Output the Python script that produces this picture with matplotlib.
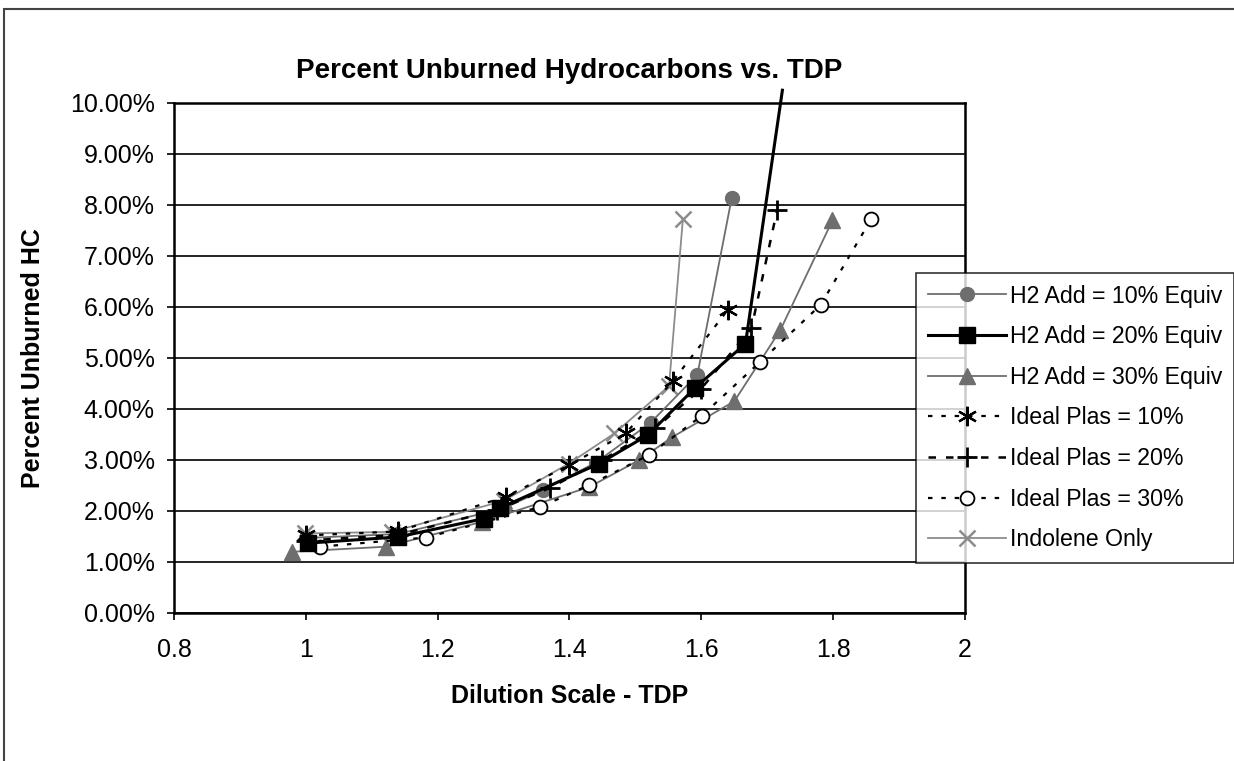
import matplotlib.pyplot as plt
from matplotlib.patches import Rectangle
from matplotlib.ticker import FuncFormatter, MultipleLocator

plt.rcParams['font.family'] = ['Liberation Sans', 'DejaVu Sans']

# Dilution scale (TDP) and percent unburned HC for each run
h2_10_x = [1.00, 1.14, 1.30, 1.36, 1.44, 1.523, 1.594, 1.646]
h2_10_y = [1.47, 1.55, 2.05, 2.41, 2.95, 3.73, 4.67, 8.13]

h2_20_x = [1.003, 1.14, 1.27, 1.295, 1.445, 1.519, 1.591, 1.667, 1.723]
h2_20_y = [1.37, 1.49, 1.85, 2.06, 2.93, 3.49, 4.42, 5.28, 10.25]

h2_30_x = [0.979, 1.122, 1.268, 1.43, 1.506, 1.556, 1.650, 1.720, 1.799]
h2_30_y = [1.20, 1.30, 1.79, 2.47, 3.00, 3.45, 4.15, 5.55, 7.70]

plas_10_x = [1.00, 1.14, 1.303, 1.40, 1.485, 1.557, 1.640]
plas_10_y = [1.52, 1.60, 2.28, 2.90, 3.52, 4.55, 5.94]

plas_20_x = [1.00, 1.14, 1.29, 1.37, 1.45, 1.53, 1.60, 1.676, 1.715]
plas_20_y = [1.42, 1.53, 2.02, 2.45, 3.00, 3.62, 4.40, 5.58, 7.90]

plas_30_x = [1.022, 1.183, 1.356, 1.43, 1.521, 1.601, 1.689, 1.781, 1.858]
plas_30_y = [1.30, 1.48, 2.08, 2.51, 3.10, 3.87, 4.92, 6.04, 7.73]

indolene_x = [0.998, 1.130, 1.30, 1.399, 1.468, 1.551, 1.572]
indolene_y = [1.56, 1.59, 2.20, 2.93, 3.52, 4.45, 7.72]

fig = plt.figure(figsize=(12.34, 7.61), dpi=100)
ax = fig.add_axes([0.141, 0.1945, 0.641, 0.6702])

gray = '#6e6e6e'
light = '#8c8c8c'

ax.plot(h2_10_x, h2_10_y, color=gray, lw=1.3, marker='o', ms=10,
        mfc=gray, mec=gray, label='H2 Add = 10% Equiv', zorder=4)
# last point of this run is off scale, so it carries no marker
ax.plot(h2_20_x, h2_20_y, color='black', lw=2.2, marker='s', ms=11,
        mfc='black', mec='black', markevery=list(range(len(h2_20_x) - 1)),
        label='H2 Add = 20% Equiv', clip_on=False, zorder=5)
ax.plot(h2_30_x, h2_30_y, color=gray, lw=1.3, marker='^', ms=11,
        mfc=gray, mec=gray, label='H2 Add = 30% Equiv', zorder=4)
ax.plot(plas_10_x, plas_10_y, color='black', lw=1.6, ls=(0, (2, 4)),
        marker=(6, 2, 0), ms=14, mew=1.6, mec='black',
        label='Ideal Plas = 10%', zorder=4)
ax.plot(plas_20_x, plas_20_y, color='black', lw=1.8, ls=(0, (3, 4)),
        marker='+', ms=15, mew=2, mec='black',
        label='Ideal Plas = 20%', zorder=4)
ax.plot(plas_30_x, plas_30_y, color='black', lw=1.6, ls=(0, (2, 4)),
        marker='o', ms=10, mfc='white', mec='black', mew=1.3,
        label='Ideal Plas = 30%', zorder=4)
ax.plot(indolene_x, indolene_y, color=light, lw=1.3, marker='x', ms=12,
        mew=1.8, mec=light, label='Indolene Only', zorder=3)

ax.set_xlim(0.8, 2.0)
ax.set_ylim(0, 10)
ax.xaxis.set_major_locator(MultipleLocator(0.2))
ax.yaxis.set_major_locator(MultipleLocator(1))
ax.xaxis.set_major_formatter(FuncFormatter(lambda v, p: f'{v:g}'))
ax.yaxis.set_major_formatter(FuncFormatter(lambda v, p: f'{v:.2f}%'))
ax.grid(axis='y', color='black', lw=1.2)
ax.set_axisbelow(True)
for s in ax.spines.values():
    s.set_linewidth(1.8)
ax.tick_params(axis='y', direction='out', length=5, width=1.2, pad=9,
               labelsize=18)
ax.tick_params(axis='x', direction='out', length=5, width=1.2, pad=13,
               labelsize=18)

ax.set_xlabel('Dilution Scale - TDP', fontsize=18, fontweight='bold',
              labelpad=16)
ax.set_ylabel('Percent Unburned HC', fontsize=18, fontweight='bold',
              labelpad=18)
ax.set_title('Percent Unburned Hydrocarbons vs. TDP', fontsize=20,
             fontweight='bold', pad=18)

leg = ax.legend(loc='upper left', bbox_to_anchor=(916 / 1234, 1 - 273 / 761),
                bbox_transform=fig.transFigure, fontsize=16.7,
                frameon=True, fancybox=False, borderaxespad=0,
                handlelength=3.4, handletextpad=0.15, labelspacing=0.76,
                borderpad=0.5)
leg.get_frame().set_edgecolor('black')
leg.get_frame().set_linewidth(1.2)

# chart area border
fig.patches.append(Rectangle((4 / 1234, -0.1), 1.2, 1.1 - 9 / 761,
                             transform=fig.transFigure, fill=False,
                             edgecolor='#444444', lw=1.5))

fig.savefig('out.png', dpi=100)
